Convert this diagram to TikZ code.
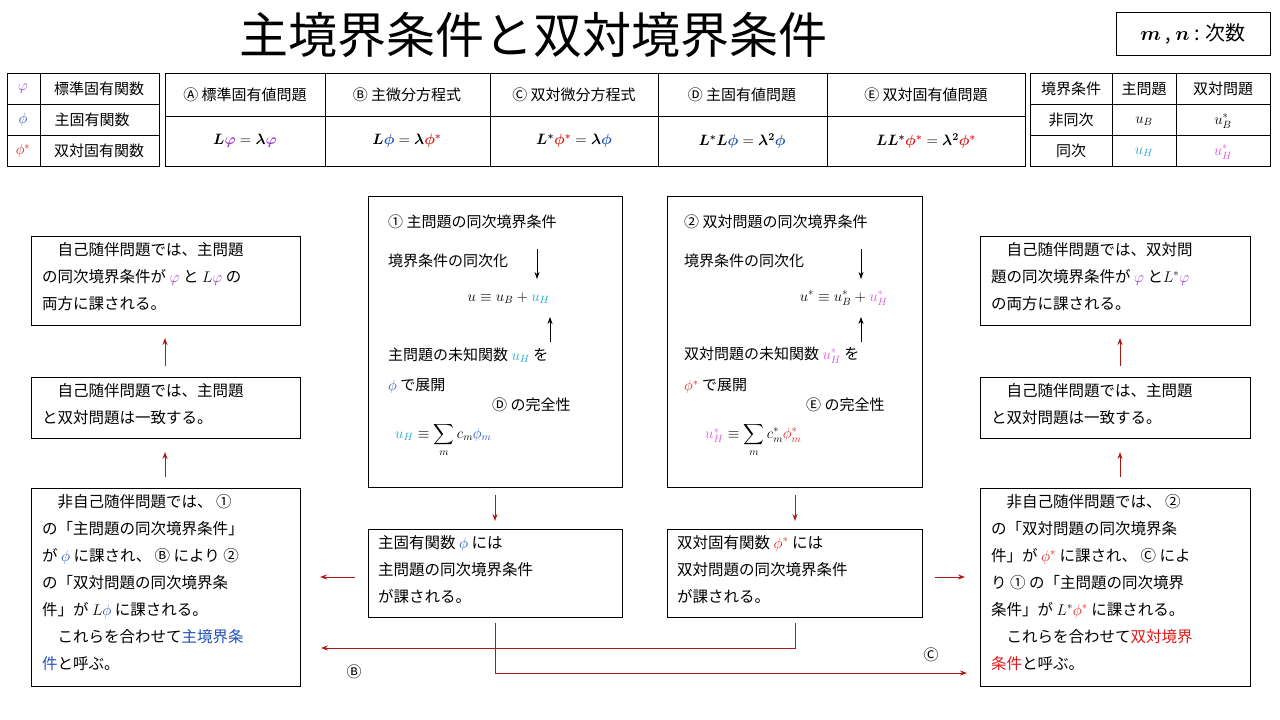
\documentclass[tikz,border=0pt]{standalone}
\usepackage{fix-cm}
\usepackage{amsmath,bm}
\usepackage{fontspec}
\setmainfont{Noto Sans CJK JP}
\usetikzlibrary{arrows.meta}
\definecolor{pur}{HTML}{9B3FD0}
\definecolor{blu}{HTML}{1F4FB8}
\definecolor{rd}{HTML}{E01818}
\definecolor{cy}{HTML}{22A8C8}
\definecolor{mg}{HTML}{D95AD9}
\definecolor{dr}{HTML}{B01818}
\newcommand{\vp}{{\color{pur}\varphi}}
\newcommand{\ph}{{\color{blu}\phi}}
\newcommand{\phs}{{\color{rd}\phi^*}}
\newcommand{\uH}{{\color{cy}u_H}}
\newcommand{\uHs}{{\color{mg}u_H^*}}
\begin{document}
\begin{tikzpicture}[x=1pt,y=-1pt,
  bx/.style={draw,line width=0.9pt},
  tx/.style={anchor=north west,align=left,inner sep=0,font=\fontsize{15.5}{27}\selectfont},
  t/.style={inner sep=0,font=\fontsize{15}{18}\selectfont},
  rar/.style={draw=dr,line width=1pt,-{Stealth[length=7pt,width=5pt]}},
  kar/.style={draw,line width=0.8pt,-{Stealth[length=7pt,width=5pt]}}]
\useasboundingbox (0,0) rectangle (1280,720);
\node[inner sep=0,font=\fontsize{49}{56}\selectfont] (title) at (533,35) {主境界条件と双対境界条件};
\node[bx,minimum width=154,minimum height=43,font=\fontsize{20}{24}\selectfont] (deg) at (1193,34) {$\bm{m}$ , $\bm{n}$ : 次数};
% left table
\draw[bx] (7,73) rectangle (159,166);
\draw (40,73) -- (40,166) (7,104) -- (159,104) (7,135) -- (159,135);
\node[t] (l1a) at (23,89) {$\vp$}; \node[t] (l1b) at (99,89) {標準固有関数};
\node[t] (l2a) at (23,120) {$\ph$}; \node[t] (l2b) at (92,120) {主固有関数};
\node[t] (l3a) at (23,151) {$\phs$}; \node[t] (l3b) at (99,151) {双対固有関数};
% middle table
\draw[bx] (165,73) rectangle (1025,166);
\draw (165,116) -- (1025,116);
\foreach \x in {325,490,658,827} \draw (\x,73) -- (\x,166);
\node[t] (h1) at (245,95) {Ⓐ 標準固有値問題};
\node[t] (h2) at (407,95) {Ⓑ 主微分方程式};
\node[t] (h3) at (574,95) {Ⓒ 双対微分方程式};
\node[t] (h4) at (742,95) {Ⓓ 主固有値問題};
\node[t] (h5) at (926,95) {Ⓔ 双対固有値問題};
\node[t] (e1) at (245,141) {$\bm{L}\bm{\vp}=\bm{\lambda}\bm{\vp}$};
\node[t] (e2) at (407,141) {$\bm{L}\bm{\ph}=\bm{\lambda}\bm{\phs}$};
\node[t] (e3) at (574,141) {$\bm{L^*}\bm{\phs}=\bm{\lambda}\bm{\ph}$};
\node[t] (e4) at (742,141) {$\bm{L^*L}\bm{\ph}=\bm{\lambda^2}\bm{\ph}$};
\node[t] (e5) at (926,141) {$\bm{LL^*}\bm{\phs}=\bm{\lambda^2}\bm{\phs}$};
% right table
\draw[bx] (1030,73) rectangle (1270,166);
\draw (1112,73) -- (1112,166) (1176,73) -- (1176,166) (1030,104) -- (1270,104) (1030,135) -- (1270,135);
\node[t] (r1a) at (1071,89) {境界条件}; \node[t] (r1b) at (1144,89) {主問題}; \node[t] (r1c) at (1223,89) {双対問題};
\node[t] (r2a) at (1071,120) {非同次}; \node[t] (r2b) at (1144,121) {$u_B$}; \node[t] (r2c) at (1223,121) {$u_B^*$};
\node[t] (r3a) at (1071,151) {同次}; \node[t] (r3b) at (1144,152) {$\uH$}; \node[t] (r3c) at (1223,152) {$\uHs$};
% center boxes
\node[bx,minimum width=254,minimum height=291,anchor=north west,inner sep=0] (c1) at (368,196) {};
\node[bx,minimum width=255,minimum height=291,anchor=north west,inner sep=0] (c2) at (667,196) {};
\node[t,anchor=west] (c1a) at (388,222) {① 主問題の同次境界条件};
\node[t,anchor=west] (c1b) at (388,261) {境界条件の同次化};
\coordinate (c1d1) at (537,249); \coordinate (c1d2) at (537,279);
\draw[kar] (c1d1) -- (c1d2);
\node[t,anchor=east] (c1eq) at (550,298) {$u\equiv u_B+\uH$};
\coordinate (c1u1) at (550,342); \coordinate (c1u2) at (550,317);
\draw[kar] (c1u1) -- (c1u2);
\node[t,anchor=west] (c1c) at (388,355) {主問題の未知関数 $\uH$ を};
\node[t,anchor=west] (c1e) at (388,386) {$\ph$ で展開};
\node[t,anchor=west] (c1f) at (492,405) {Ⓓ の完全性};
\node[t,anchor=west] (c1s) at (395,440) {$\uH\equiv\displaystyle\sum_m c_m{\color{blu}\phi_m}$};
\node[t,anchor=west] (c2a) at (684,222) {② 双対問題の同次境界条件};
\node[t,anchor=west] (c2b) at (684,261) {境界条件の同次化};
\coordinate (c2d1) at (861,249); \coordinate (c2d2) at (861,279);
\draw[kar] (c2d1) -- (c2d2);
\node[t,anchor=east] (c2eq) at (888,298) {$u^*\equiv u_B^*+\uHs$};
\coordinate (c2u1) at (861,342); \coordinate (c2u2) at (861,317);
\draw[kar] (c2u1) -- (c2u2);
\node[t,anchor=west] (c2c) at (684,355) {双対問題の未知関数 $\uHs$ を};
\node[t,anchor=west] (c2e) at (684,386) {$\phs$ で展開};
\node[t,anchor=west] (c2f) at (806,405) {Ⓔ の完全性};
\node[t,anchor=west] (c2s) at (705,440) {$\uHs\equiv\displaystyle\sum_m c_m^*{\color{rd}\phi_m^*}$};
% lower center boxes
\node[bx,minimum width=254,minimum height=88,anchor=north west,inner sep=0] (d1) at (368,529) {};
\node[bx,minimum width=255,minimum height=88,anchor=north west,inner sep=0] (d2) at (667,529) {};
\node[tx] (d1t) at (378,535) {主固有関数 $\ph$ には\\主問題の同次境界条件\\が課される。};
\node[tx] (d2t) at (677,535) {双対固有関数 $\phs$ には\\双対問題の同次境界条件\\が課される。};
% left boxes
\node[bx,minimum width=269,minimum height=89,anchor=north west,inner sep=0] (la) at (31,236) {};
\node[bx,minimum width=269,minimum height=61,anchor=north west,inner sep=0] (lb) at (31,377) {};
\node[bx,minimum width=269,minimum height=198,anchor=north west,inner sep=0] (lc) at (31,488) {};
\node[tx] (lat) at (42,242) {　自己随伴問題では、主問題\\の同次境界条件が $\vp$ と $L\vp$ の\\両方に課される。};
\node[tx] (lbt) at (42,383) {　自己随伴問題では、主問題\\と双対問題は一致する。};
\node[tx] (lct) at (42,494) {　非自己随伴問題では、 ①\\の「主問題の同次境界条件」\\が $\ph$ に課され、 Ⓑ により ②\\の「双対問題の同次境界条\\件」が $L\ph$ に課される。\\　これらを合わせて{\color{blu}主境界条}\\{\color{blu}件}と呼ぶ。};
% right boxes
\node[bx,minimum width=270,minimum height=89,anchor=north west,inner sep=0] (ra) at (980,236) {};
\node[bx,minimum width=270,minimum height=61,anchor=north west,inner sep=0] (rb) at (980,377) {};
\node[bx,minimum width=270,minimum height=198,anchor=north west,inner sep=0] (rc) at (980,488) {};
\node[tx] (rat) at (991,242) {　自己随伴問題では、双対問\\題の同次境界条件が $\vp$ と$L^*\vp$\\の両方に課される。};
\node[tx] (rbt) at (991,383) {　自己随伴問題では、主問題\\と双対問題は一致する。};
\node[tx] (rct) at (991,494) {　非自己随伴問題では、 ②\\の「双対問題の同次境界条\\件」が $\phs$ に課され、 Ⓒ によ\\り ① の「主問題の同次境界\\条件」が $L^*\phs$ に課される。\\　これらを合わせて{\color{rd}双対境界}\\{\color{rd}条件}と呼ぶ。};
% red arrows
\coordinate (a1s) at (165,366); \coordinate (a1e) at (165,338);
\coordinate (a2s) at (165,477); \coordinate (a2e) at (165,452);
\coordinate (a3s) at (1120,366); \coordinate (a3e) at (1120,338);
\coordinate (a4s) at (1120,477); \coordinate (a4e) at (1120,452);
\coordinate (a5s) at (495,495); \coordinate (a5e) at (495,521);
\coordinate (a6s) at (795,495); \coordinate (a6e) at (795,521);
\coordinate (a7s) at (355,577); \coordinate (a7e) at (320,577);
\coordinate (a8s) at (935,577); \coordinate (a8e) at (965,577);
\draw[rar] (a1s) -- (a1e);
\draw[rar] (a2s) -- (a2e);
\draw[rar] (a3s) -- (a3e);
\draw[rar] (a4s) -- (a4e);
\draw[rar] (a5s) -- (a5e);
\draw[rar] (a6s) -- (a6e);
\draw[rar] (a7s) -- (a7e);
\draw[rar] (a8s) -- (a8e);
\coordinate (b1s) at (795,623); \coordinate (lcin) at (321,648);
\coordinate (b2s) at (495,623); \coordinate (rcin) at (967,673);
\draw[rar] (b1s) |- (lcin);
\draw[rar] (b2s) |- (rcin);
\node[t] (lbB) at (354,672) {Ⓑ};
\node[t] (lbC) at (931,655) {Ⓒ};
\end{tikzpicture}
\end{document}
